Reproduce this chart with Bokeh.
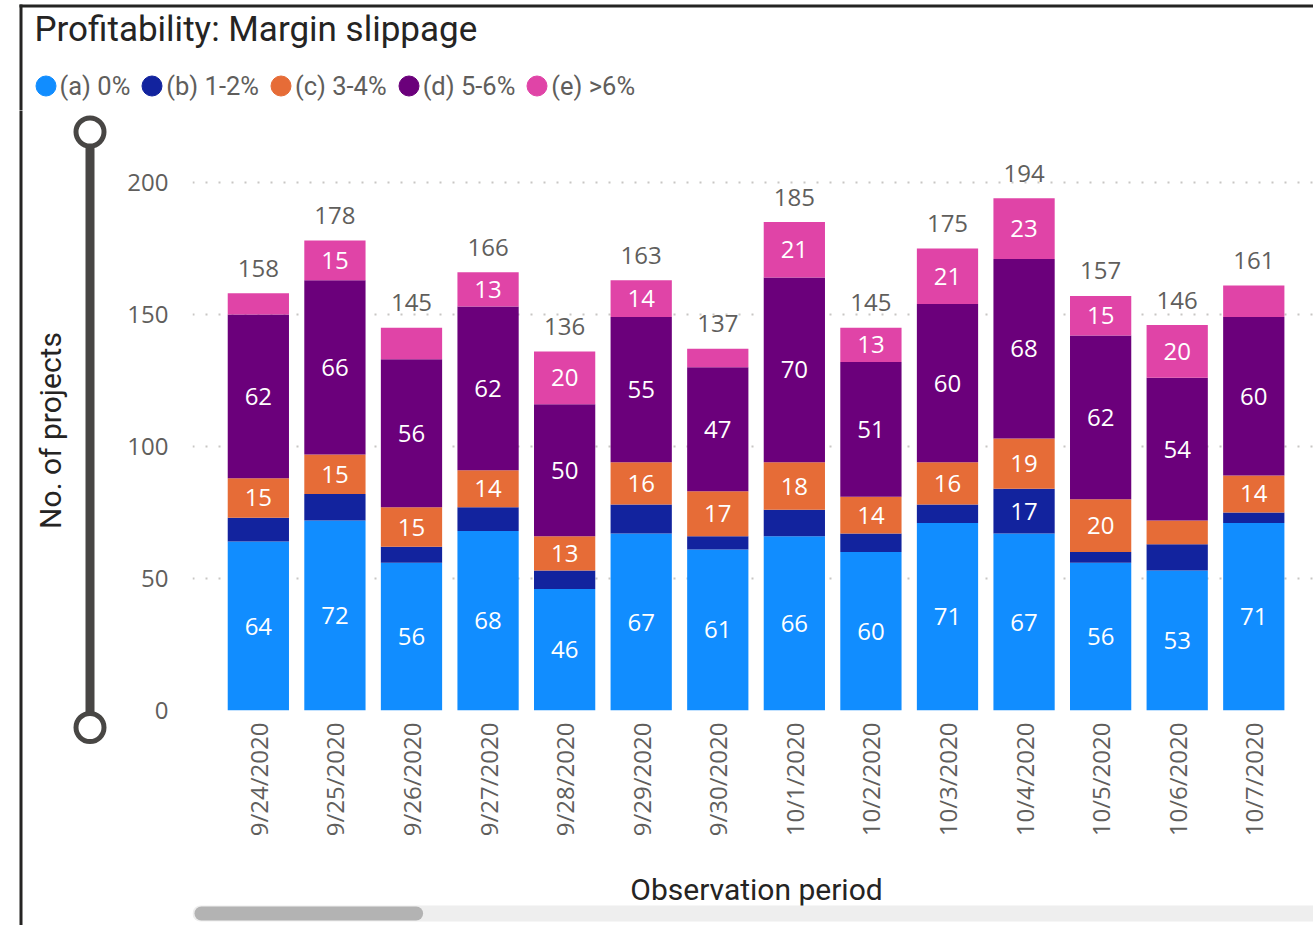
import math
from bokeh.plotting import figure
from bokeh.models import (ColumnDataSource, Range1d, FixedTicker, Legend, LegendItem)
from bokeh.layouts import column, row
from bokeh.core.properties import value
from bokeh.embed import file_html
from bokeh.resources import INLINE

# ---------------- data ----------------
dates = ["9/24/2020", "9/25/2020", "9/26/2020", "9/27/2020", "9/28/2020",
         "9/29/2020", "9/30/2020", "10/1/2020", "10/2/2020", "10/3/2020",
         "10/4/2020", "10/5/2020", "10/6/2020", "10/7/2020"]
series = ["(a) 0%", "(b) 1-2%", "(c) 3-4%", "(d) 5-6%", "(e) >6%"]
a_vals = [64, 72, 56, 68, 46, 67, 61, 66, 60, 71, 67, 56, 53, 71]
b_vals = [9, 10, 6, 9, 7, 11, 5, 10, 7, 7, 17, 4, 10, 4]
c_vals = [15, 15, 15, 14, 13, 16, 17, 18, 14, 16, 19, 20, 9, 14]
d_vals = [62, 66, 56, 62, 50, 55, 47, 70, 51, 60, 68, 62, 54, 60]
e_vals = [8, 15, 12, 13, 20, 14, 7, 21, 13, 21, 23, 15, 20, 12]
y_ticks = [0, 50, 100, 150, 200]
colors = ["#118DFF", "#12239E", "#E66C37", "#6B007B", "#E044A7"]
title_text = "Profitability: Margin slippage"
x_title = "Observation period"
y_title = "No. of projects"

SEGOE = "Open Sans"
DIN = "Roboto"
GREY = "#605E5C"
DARK = "#252423"
SLIDER = "#484644"

keys = ["a", "b", "c", "d", "e"]
vals = [a_vals, b_vals, c_vals, d_vals, e_vals]
xs = list(range(len(dates)))
data = {"x": xs}
for k, v in zip(keys, vals):
    data[k] = v
src = ColumnDataSource(data)
totals = [sum(t) for t in zip(*vals)]

# segment labels (shown when the segment is big enough)
lx, ly, lt = [], [], []
for i in xs:
    bottom = 0
    for v in vals:
        val = v[i]
        if val >= 13:
            lx.append(i)
            ly.append(bottom + val / 2)
            lt.append(str(val))
        bottom += val


def deco_fig(x0, y0, w, h, border_left=0):
    f = figure(width=w, height=h, output_backend="svg", toolbar_location=None,
               x_range=Range1d(x0 + border_left, x0 + w),
               y_range=Range1d(y0 + h, y0),
               x_axis_type=None, y_axis_type=None, min_border=0,
               min_border_left=border_left)
    f.outline_line_color = None
    f.background_fill_color = "white"
    f.border_fill_color = "white"
    return f


LEFT_W = 124
HEAD_H = 110
MAIN_H = 740          # main chart figure: page y 110 .. 850
FRAME_L = 190 - LEFT_W

# ---------------- header: title + legend ----------------
head = deco_fig(0, 0, 1313, HEAD_H)
head.segment(x0=[19], y0=[5.5], x1=[1313], y1=[5.5], line_color=DARK, line_width=3)
head.segment(x0=[20.5], y0=[4], x1=[20.5], y1=[HEAD_H + 2], line_color=DARK, line_width=3)
head.text(x=[34], y=[29], text=[title_text], text_font=value(DIN),
          text_font_size="35px", text_color=DARK, text_baseline="alphabetic",
          text_align="left")
items = []
for name, col in zip(series, colors):
    r = head.ellipse(x=[-100], y=[-100], width=1, height=1, width_units="screen",
                     height_units="screen", fill_color=col, line_color=col)
    items.append(LegendItem(label=name, renderers=[r]))
legend = Legend(items=items, location=(32.5, 9.5), orientation="horizontal",
                glyph_width=25, glyph_height=25, label_standoff=2, spacing=9,
                padding=0, margin=0, border_line_color=None,
                background_fill_alpha=0, label_text_font=DIN,
                label_text_font_size="25.5px", label_text_color=GREY)
head.add_layout(legend, "center")

# ---------------- left strip: y title + zoom slider ----------------
left = deco_fig(0, HEAD_H, LEFT_W, 925 - HEAD_H)
left.segment(x0=[20.5], y0=[HEAD_H - 2], x1=[20.5], y1=[925], line_color=DARK, line_width=3)
left.segment(x0=[89.5], y0=[131.5], x1=[89.5], y1=[727], line_color=SLIDER, line_width=9)
left.scatter(x=[89.5, 89.5], y=[131.5, 727], size=28, marker="circle",
             fill_color="white", line_color=SLIDER, line_width=5)
left.text(x=[50], y=[430], text=[y_title], angle=math.pi / 2,
          text_font=value(DIN), text_font_size="30px", text_color=DARK,
          text_align="center", text_baseline="middle")

# ---------------- main chart ----------------
p = figure(width=1313 - LEFT_W, height=MAIN_H, output_backend="svg",
           toolbar_location=None,
           x_range=Range1d(-0.86, 13.78), y_range=Range1d(0, 212.1),
           min_border_left=FRAME_L, min_border_right=0, min_border_top=40,
           min_border_bottom=MAIN_H - 600)
p.outline_line_color = None
p.background_fill_color = "white"
p.border_fill_color = "white"

p.vbar_stack(keys, x="x", width=0.8, color=colors, line_color=None, source=src)

p.text(x=lx, y=ly, text=lt, text_align="center", text_baseline="middle",
       text_color="white", text_font=value(SEGOE), text_font_size="24px")
p.text(x=xs, y=totals, text=[str(t) for t in totals], y_offset=-25,
       text_align="center", text_baseline="middle", text_color=GREY,
       text_font=value(SEGOE), text_font_size="24px")

p.xgrid.visible = False
p.ygrid.ticker = FixedTicker(ticks=y_ticks)
p.ygrid.grid_line_color = "#C8C6C4"
p.ygrid.grid_line_dash = "2 11"
p.ygrid.grid_line_width = 2

yax = p.yaxis[0]
yax.ticker = FixedTicker(ticks=y_ticks)
yax.axis_line_color = None
yax.major_tick_line_color = None
yax.minor_tick_line_color = None
yax.major_tick_out = 0
yax.minor_tick_out = 0
yax.major_label_standoff = 24
yax.major_label_text_font = SEGOE
yax.major_label_text_font_size = "24px"
yax.major_label_text_color = GREY

xax = p.xaxis[0]
xax.ticker = FixedTicker(ticks=xs)
xax.major_label_overrides = {i: d for i, d in zip(xs, dates)}
xax.major_label_orientation = math.pi / 2
xax.axis_line_color = None
xax.major_tick_line_color = None
xax.minor_tick_line_color = None
xax.major_tick_out = 0
xax.minor_tick_out = 0
xax.major_label_standoff = 12
xax.major_label_text_font = SEGOE
xax.major_label_text_font_size = "24px"
xax.major_label_text_color = GREY

# ---------------- bottom strip: x title + scrollbar ----------------
BOT_Y = HEAD_H + MAIN_H
bot = deco_fig(LEFT_W, BOT_Y, 1313 - LEFT_W, 925 - BOT_Y, border_left=FRAME_L)
bot.text(x=[755], y=[889], text=[x_title], text_font=value(DIN),
         text_font_size="30px", text_color=DARK, text_align="center",
         text_baseline="middle")
bot.segment(x0=[198], y0=[913], x1=[1330], y1=[913], line_color="#EEEEEE",
            line_width=16, line_cap="round")
bot.segment(x0=[199], y0=[913], x1=[414], y1=[913], line_color="#B3B3B3",
            line_width=14, line_cap="round")

layout = column(head, row(left, column(p, bot)))
open("out.html", "w").write(file_html(layout, INLINE))
